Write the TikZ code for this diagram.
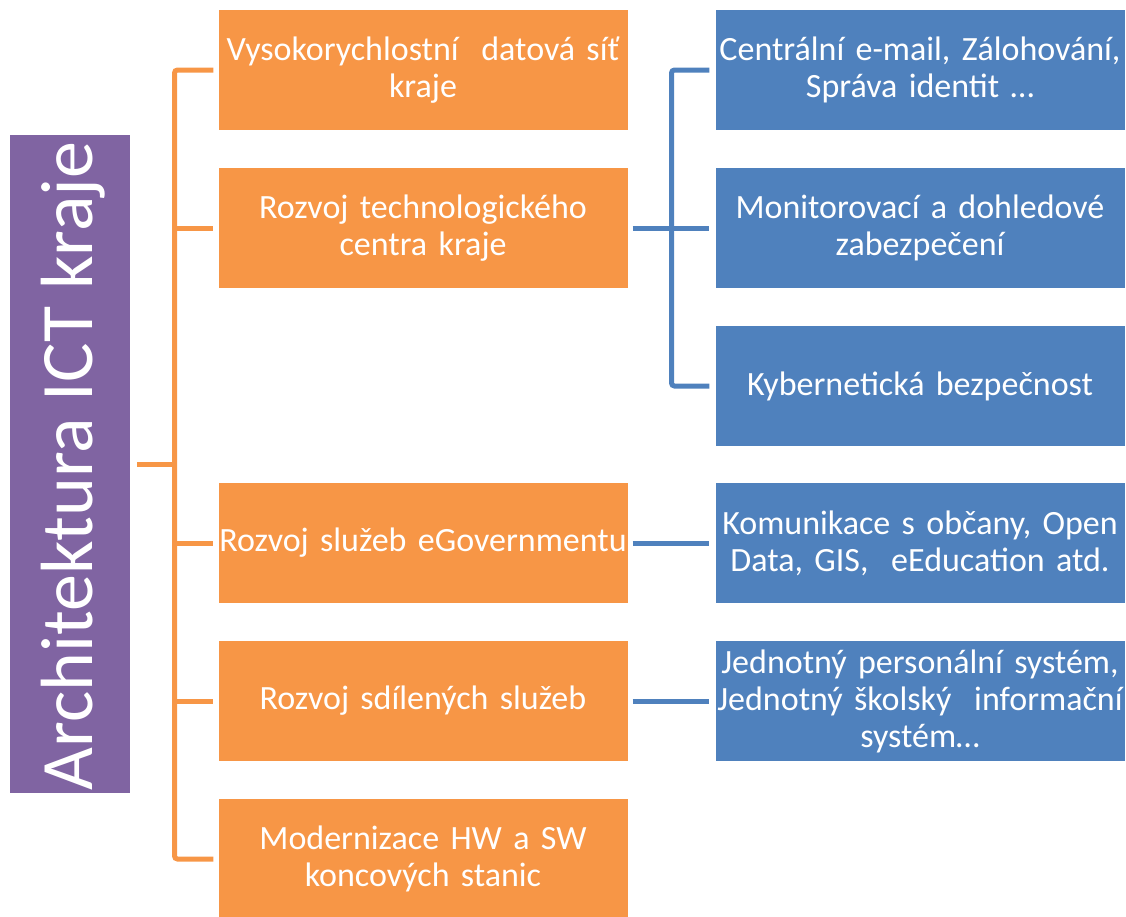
\documentclass[tikz,border=0pt]{standalone}
\usepackage{fontspec}
\setmainfont{Carlito}
\definecolor{ofill}{HTML}{F79646}
\definecolor{bfill}{HTML}{4F81BD}
\definecolor{pfill}{HTML}{8064A2}
\begin{document}
\begin{tikzpicture}[x=1pt,y=-1pt,
  box/.style={minimum width=409pt,minimum height=120pt,inner sep=0pt,text width=409pt,align=center,text=white,font=\fontsize{34}{37}\selectfont},
  obox/.style={box,fill=ofill},
  bbox/.style={box,fill=bfill},
  oline/.style={draw=ofill,line width=5pt,rounded corners=3pt},
  bline/.style={draw=bfill,line width=5pt,rounded corners=3pt}]
\useasboundingbox (0,0) rectangle (1126,916);
% title
\node[fill=pfill,minimum width=120pt,minimum height=658pt,inner sep=0pt] (tbox) at (70,464) {};
\node[rotate=90,text=white,font=\fontsize{74}{80}\selectfont,inner sep=0pt] (title) at (73,466) {Architektura ICT kraje};
% orange column
\node[obox] (o1) at (423,70) {Vysokorychlostní\ \ datová síť\\kraje};
\node[obox] (o2) at (423,228) {Rozvoj technologického\\centra kraje};
\node[obox] (o3) at (423,543) {Rozvoj služeb eGovernmentu};
\node[obox] (o4) at (423,701) {Rozvoj sdílených služeb};
\node[obox] (o5) at (423,859) {Modernizace HW a SW\\koncových stanic};
% blue column
\node[bbox] (b1) at (920,70) {Centrální e-mail, Zálohování,\\Správa identit …};
\node[bbox] (b2) at (920,228) {Monitorovací a dohledové\\zabezpečení};
\node[bbox] (b3) at (920,386) {Kybernetická bezpečnost};
\node[bbox] (b4) at (920,543) {Komunikace s občany, Open\\Data, GIS,\ \ eEducation atd.};
\node[bbox] (b5) at (920,701) {Jednotný personální systém,\\Jednotný školský\ \ informační\\systém…};
% orange connectors
\coordinate (tx) at (174.5,464.5);
\draw[oline] ([xshift=-5pt]o1.west) -| (tx |- o5.west) -- ([xshift=-5pt]o5.west);
\foreach \n in {o2,o3,o4} \draw[oline] (tx |- \n.west) -- ([xshift=-5pt]\n.west);
\draw[oline] ([xshift=7pt]tbox.east) -- (tx |- tbox.east);
% blue connectors
\coordinate (bx) at (671.5,228);
\draw[bline] ([xshift=-6pt]b1.west) -| (bx |- b3.west) -- ([xshift=-6pt]b3.west);
\draw[bline] ([xshift=5pt]o2.east) -- ([xshift=-6pt]b2.west);
\draw[bline] ([xshift=5pt]o3.east) -- ([xshift=-6pt]b4.west);
\draw[bline] ([xshift=5pt]o4.east) -- ([xshift=-6pt]b5.west);
\end{tikzpicture}
\end{document}
